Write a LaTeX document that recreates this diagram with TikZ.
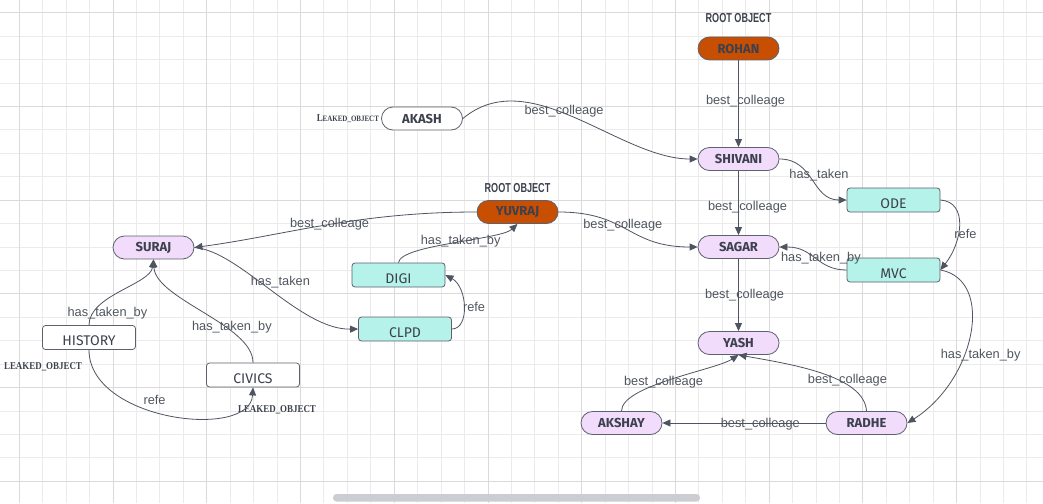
\documentclass[tikz,border=0pt]{standalone}
\usepackage{fontspec}
\setmainfont{Liberation Sans}
\newfontfamily\objfont{Fira Sans}
\newfontfamily\tagfont[FakeStretch=0.7]{Liberation Sans}
\newfontfamily\leakfont[FakeStretch=0.85]{Liberation Serif}
\usetikzlibrary{arrows.meta, positioning}
\definecolor{rootorange}{HTML}{C84E02}
\definecolor{lavender}{HTML}{F1DCFB}
\definecolor{aqua}{HTML}{B4F2EA}
\definecolor{nodeline}{HTML}{5C616C}
\definecolor{nodetext}{HTML}{3C414D}
\definecolor{edgegray}{HTML}{4F5461}
\definecolor{lblgray}{HTML}{50555F}
\definecolor{gridminor}{HTML}{EBEBEB}
\definecolor{gridmajor}{HTML}{DADADA}
\definecolor{scrollgray}{HTML}{CBCDD2}

\begin{document}
\begin{tikzpicture}[
  x=1pt, y=-1pt,
  pill/.style={rectangle, rounded corners=11.5pt, draw=nodeline, line width=0.8pt, fill=#1, minimum width=81pt, minimum height=23pt, inner sep=0pt, text=nodetext, font=\objfont\bfseries\fontsize{13}{14}\selectfont},
  classbox/.style={rectangle, rounded corners=3pt, draw=nodeline, line width=0.8pt, fill=#1, minimum width=93pt, minimum height=24pt, inner sep=0pt, text height=16pt, text depth=0pt, text=nodetext, font=\objfont\fontsize{14}{15}\selectfont},
  tag/.style={inner sep=0pt, text=nodetext, font=\tagfont\bfseries\fontsize{13}{14}\selectfont},
  leaktag/.style={inner sep=0pt, text=nodetext, font=\leakfont\bfseries\fontsize{10.5}{11}\selectfont},
  link/.style={-{Triangle[length=8pt, width=7pt]}, draw=edgegray, line width=0.8pt},
  lbl/.style={inner sep=1pt, text=lblgray, font=\fontsize{12.8}{14}\selectfont},
]

% Canvas and grid
\useasboundingbox (0,0) rectangle (1043,503);
\fill[white] (0,0) rectangle (1043,503);
\foreach \k in {-1,...,44} \draw[gridminor, line width=0.8pt] ({19.3+23.43*\k},0) -- ++(0,503);
\foreach \k in {-1,...,21} \draw[gridminor, line width=0.8pt] (0,{12.7+23.43*\k}) -- ++(1043,0);
\foreach \k in {0,...,11} \draw[gridmajor, line width=0.8pt] ({19.3+93.72*\k},0) -- ++(0,503);
\foreach \k in {0,...,5} \draw[gridmajor, line width=0.8pt] (0,{12.7+93.72*\k}) -- ++(1043,0);

% Objects
\node[pill=rootorange] (rohan) at (738.5,48.5) {ROHAN};
\node[pill=white] (akash) at (422,118.5) {AKASH};
\node[pill=lavender] (shivani) at (738.5,159) {SHIVANI};
\node[classbox=aqua] (ode) at (893.5,200) {ODE};
\node[pill=rootorange] (yuvraj) at (517.5,212) {YUVRAJ};
\node[pill=lavender] (suraj) at (153.5,247.5) {SURAJ};
\node[pill=lavender] (sagar) at (738.5,247) {SAGAR};
\node[classbox=aqua] (mvc) at (893.5,270) {MVC};
\node[classbox=aqua] (digi) at (398.5,275) {DIGI};
\node[classbox=aqua] (clpd) at (405,329) {CLPD};
\node[classbox=white] (history) at (89,337.5) {HISTORY};
\node[pill=lavender] (yash) at (738.5,343) {YASH};
\node[classbox=white] (civics) at (253,375) {CIVICS};
\node[pill=lavender] (akshay) at (621.5,423) {AKSHAY};
\node[pill=lavender] (radhe) at (866.5,423) {RADHE};

% Tags
\node[tag, above=14pt of rohan] (rohantag) {ROOT OBJECT};
\node[tag, above=7pt of yuvraj] (yuvrajtag) {ROOT OBJECT};
\node[leaktag, left=2pt of akash] (akashtag) {L{\fontsize{8.2}{9}\selectfont EAKED\_OBJECT}};
\node[leaktag] (historytag) at (43,367) {LEAKED\_OBJECT};
\node[leaktag] (civicstag) at (277,410) {LEAKED\_OBJECT};

% References
\draw[link] (rohan) -- node[lbl, xshift=7pt, yshift=3pt] {best\_colleage} (shivani);
\draw[link] (akash.east) .. controls +(67,-56) and +(-78,0) .. (shivani.west) node[lbl, pos=0.45, yshift=2pt] {best\_colleage};
\draw[link] (shivani.east) .. controls +(35,0) and +(-35,0) .. (ode.west) node[lbl, pos=0.5, xshift=6pt, yshift=4pt] {has\_taken};
\draw[link] (shivani) -- node[lbl, xshift=9pt, yshift=-4pt] {best\_colleage} (sagar);
\draw[link] (yuvraj.east) .. controls +(70,0) and +(-70,0) .. (sagar.west) node[lbl, pos=0.45, yshift=2pt] {best\_colleage};
\draw[link] (yuvraj.west) .. controls +(-120,0) and +(90,-12) .. (suraj.east) node[lbl, pos=0.48] {best\_colleage};
\draw[link] (ode.east) .. controls +(28,2) and +(22,-28) .. (mvc.east) node[lbl, pos=0.6, anchor=west, xshift=-5pt] {refe};
\draw[link] (mvc.west) .. controls +(-30,0) and +(35,0) .. (sagar.east) node[lbl, pos=0.5, xshift=6pt] {has\_taken\_by};
\draw[link] (sagar) -- node[lbl, xshift=6pt] {best\_colleage} (yash);
\draw[link] (mvc.east) .. controls +(55,10) and +(68,-43) .. (radhe.east) node[lbl, pos=0.62, xshift=18pt, yshift=2pt] {has\_taken\_by};
\draw[link] (radhe) -- node[lbl, pos=0.4, yshift=-1pt] {best\_colleage} (akshay);
\draw[link] (akshay.north) .. controls +(0,-26) and +(-23,15) .. (yash.south) node[lbl, pos=0.45, yshift=-1pt] {best\_colleage};
\draw[link] (radhe.north) .. controls +(-2,-36) and +(50,9) .. (yash.south) node[lbl, pos=0.3, yshift=5pt] {best\_colleage};
\draw[link] (digi.north) .. controls +(2,-18) and +(-17,16) .. (yuvraj.south) node[lbl, pos=0.55] {has\_taken\_by};
\draw[link] (clpd.east) .. controls +(18,0) and +(22,12) .. (digi.east) node[lbl, pos=0.5, anchor=west, xshift=-2pt] {refe};
\draw[link] (suraj.east) .. controls +(45,3) and +(-58,1) .. (clpd.west) node[lbl, pos=0.5, xshift=9pt, yshift=8pt] {has\_taken};
\draw[link] (history.north) .. controls +(0,-30) and +(-3,25) .. (suraj.south) node[lbl, pos=0.2, xshift=12pt, yshift=-4pt] {has\_taken\_by};
\draw[link] (civics.north) .. controls +(0,-38) and +(2,40) .. (suraj.south) node[lbl, pos=0.3, yshift=4pt] {has\_taken\_by};
\draw[link] (history.south) .. controls +(0,71) and +(-3,53) .. (civics.south) node[lbl, pos=0.42, xshift=4pt, yshift=11pt] {refe};

% Scroll bar
\fill[scrollgray, rounded corners=3.5pt] (333,494) rectangle (700,501.5);

\end{tikzpicture}
\end{document}
